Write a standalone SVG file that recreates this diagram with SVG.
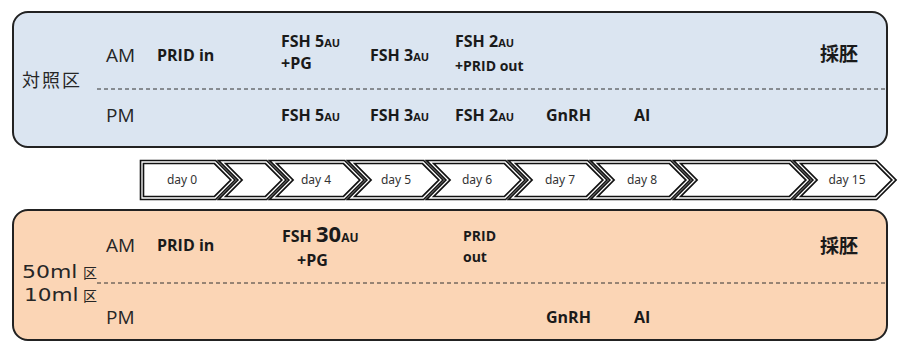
<svg xmlns="http://www.w3.org/2000/svg" width="898" height="341" viewBox="0 0 898 341">
<style>
.box{stroke:#222;stroke-width:2}
.dash{stroke:#333;stroke-width:1;stroke-dasharray:4 3;fill:none}
.lab{font-family:"Open Sans","Noto Sans",sans-serif;font-size:19px;fill:#262626}
.b{font-family:"Open Sans","Noto Sans",sans-serif;font-weight:bold;font-size:16px;fill:#1a1a1a}
.sm{font-size:11px}
.s14{font-size:14px}
.cjk{font-family:"Noto Sans CJK JP",sans-serif;font-size:18px;fill:#262626}
.cjkb{font-family:"Noto Sans CJK JP",sans-serif;font-weight:bold;font-size:19px;fill:#1a1a1a}
.ml{font-family:"DejaVu Sans",sans-serif;font-size:18px;fill:#262626}
.box14{font-family:"Noto Sans CJK JP",sans-serif;font-size:14px;fill:#262626}
.chev{fill:#fff;stroke:#111;stroke-width:4.6;stroke-linejoin:miter}
.chevin{fill:none;stroke:#fff;stroke-width:1.3;stroke-linejoin:miter}
.day{font-family:"Noto Sans","Open Sans",sans-serif;font-size:12px;fill:#333;text-anchor:middle}
</style>
<defs>
<path id="p0" d="M142,162 H215 L233,180 L215,198 H142 Z"/>
<path id="p1" d="M222,162 H266 L284,180 L266,198 H222 L240,180 Z"/>
<path id="p2" d="M273,162 H344 L362,180 L344,198 H273 L291,180 Z"/>
<path id="p3" d="M351,162 H423 L441,180 L423,198 H351 L369,180 Z"/>
<path id="p4" d="M430,162 H505 L523,180 L505,198 H430 L448,180 Z"/>
<path id="p5" d="M512,162 H587 L605,180 L587,198 H512 L530,180 Z"/>
<path id="p6" d="M594,162 H670 L688,180 L670,198 H594 L612,180 Z"/>
<path id="p7" d="M677,162 H790 L808,180 L790,198 H677 L695,180 Z"/>
<path id="p8" d="M797,162 H876 L894,180 L876,198 H797 L815,180 Z"/>
</defs>

<g id="control-group">
<rect class="box" x="13" y="12" width="874" height="135" rx="15" fill="#dbe5f1"/>
<line class="dash" x1="97" y1="89" x2="887" y2="89"/>
<text class="cjk" x="22" y="87" letter-spacing="2">対照区</text>
<text class="lab" x="106" y="62">AM</text>
<text class="lab" x="106" y="122">PM</text>
<text class="b" x="157" y="61">PRID in</text>
<text class="b" x="281" y="47">FSH 5<tspan class="sm">AU</tspan></text>
<text class="b" x="281" y="69">+PG</text>
<text class="b" x="370" y="61">FSH 3<tspan class="sm">AU</tspan></text>
<text class="b" x="455" y="47">FSH 2<tspan class="sm">AU</tspan></text>
<text class="b s14" x="455" y="71">+PRID out</text>
<text class="cjkb" x="820" y="61">採胚</text>
<text class="b" x="281" y="121">FSH 5<tspan class="sm">AU</tspan></text>
<text class="b" x="370" y="121">FSH 3<tspan class="sm">AU</tspan></text>
<text class="b" x="455" y="121">FSH 2<tspan class="sm">AU</tspan></text>
<text class="b" x="546" y="121">GnRH</text>
<text class="b" x="634" y="121">AI</text>
</g>

<g id="timeline">
<g id="day0"><use href="#p0" class="chev"/><use href="#p0" class="chevin"/><text class="day" x="182" y="184">day 0</text></g>
<g id="gap1"><use href="#p1" class="chev"/><use href="#p1" class="chevin"/></g>
<g id="day4"><use href="#p2" class="chev"/><use href="#p2" class="chevin"/><text class="day" x="316" y="184">day 4</text></g>
<g id="day5"><use href="#p3" class="chev"/><use href="#p3" class="chevin"/><text class="day" x="396" y="184">day 5</text></g>
<g id="day6"><use href="#p4" class="chev"/><use href="#p4" class="chevin"/><text class="day" x="477" y="184">day 6</text></g>
<g id="day7"><use href="#p5" class="chev"/><use href="#p5" class="chevin"/><text class="day" x="560" y="184">day 7</text></g>
<g id="day8"><use href="#p6" class="chev"/><use href="#p6" class="chevin"/><text class="day" x="642" y="184">day 8</text></g>
<g id="gap2"><use href="#p7" class="chev"/><use href="#p7" class="chevin"/></g>
<g id="day15"><use href="#p8" class="chev"/><use href="#p8" class="chevin"/><text class="day" x="847" y="184">day 15</text></g>
</g>

<g id="test-group">
<rect class="box" x="13" y="210" width="874" height="130" rx="15" fill="#fbd5b5"/>
<line class="dash" x1="97" y1="283" x2="887" y2="283"/>
<text class="ml" transform="translate(22,278) scale(1.22,1)">50ml</text>
<text class="box14" x="83" y="278">区</text>
<text class="ml" transform="translate(24,301) scale(1.2,1)">10ml</text>
<text class="box14" x="83" y="301">区</text>
<text class="lab" x="106" y="252">AM</text>
<text class="lab" x="106" y="324">PM</text>
<text class="b" x="157" y="251">PRID in</text>
<text class="b" x="282" y="242">FSH <tspan font-size="22">30</tspan><tspan font-size="12">AU</tspan></text>
<text class="b" x="297" y="266">+PG</text>
<text class="b s14" x="463" y="241">PRID</text>
<text class="b s14" x="463" y="262">out</text>
<text class="cjkb" x="820" y="253">採胚</text>
<text class="b" x="546" y="323">GnRH</text>
<text class="b" x="634" y="323">AI</text>
</g>

<g id="connectors"></g>
</svg>
